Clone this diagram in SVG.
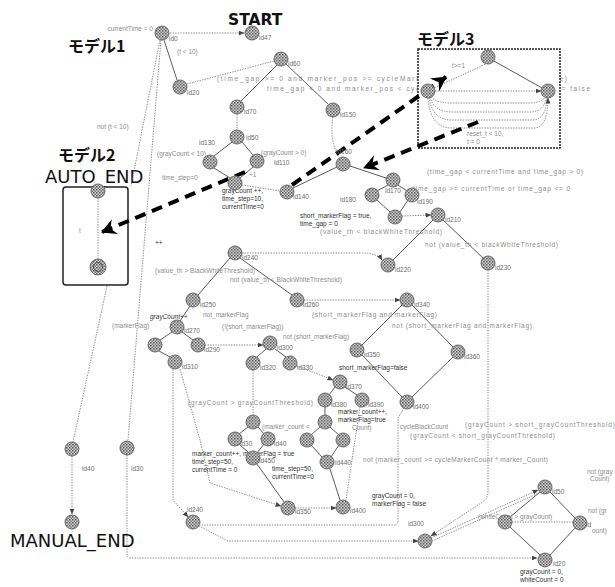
<svg xmlns="http://www.w3.org/2000/svg" width="615" height="587" viewBox="0 0 615 587">
<defs>
<pattern id="dith" width="3" height="3" patternUnits="userSpaceOnUse"><rect width="3" height="3" fill="#cfcfcf"/><rect width="1.5" height="1.5" fill="#5a5a5a"/><rect x="1.5" y="1.5" width="1.5" height="1.5" fill="#7a7a7a"/></pattern>
<marker id="a" markerUnits="userSpaceOnUse" markerWidth="6" markerHeight="6" refX="5.5" refY="3" orient="auto"><path d="M0,0.5 L6,3 L0,5.5 z" fill="#444"/></marker>
<marker id="big" markerUnits="userSpaceOnUse" markerWidth="18" markerHeight="18" refX="15" refY="9" orient="auto"><path d="M1,1 L16,9 L1,17 L6,9 z" fill="#000"/></marker>
<style>
.n{fill:url(#dith);stroke:#6a6a6a;stroke-width:1}
.e{fill:none;stroke:#6f6f6f;stroke-width:0.8;stroke-dasharray:1.4 1.2}
.s{fill:none;stroke:#4a4a4a;stroke-width:0.9}
.t{font-family:"Liberation Sans",Arial,sans-serif;font-size:6.5px;fill:#8c8c8c}
.i{font-family:"Liberation Sans",Arial,sans-serif;font-size:6.5px;fill:#6c6c6c}
.d{font-family:"Liberation Sans",Arial,sans-serif;font-size:6.5px;fill:#333}
.big{font-family:"DejaVu Sans","Noto Sans CJK JP",sans-serif;font-size:18px;fill:#111}
.bj{font-family:"Noto Sans CJK JP","DejaVu Sans",sans-serif;font-size:16px;font-weight:bold;fill:#111}
.th{fill:none;stroke:#000;stroke-width:4;stroke-dasharray:11 7}
</style>
</defs>
<rect width="615" height="587" fill="#fff"/>

<g id="bg-labels">
<text class="t" x="217" y="81" textLength="350" lengthAdjust="spacing">(time_gap &gt;= 0 and marker_pos &gt;= cycleMarkerCount and markerFlag == true)</text>
<text class="t" x="267" y="91" textLength="323" lengthAdjust="spacing">time_gap &lt; 0 and marker_pos &lt; cycleMarkerCount and markerFlag == false</text>
</g>

<g id="model3">
<rect x="418" y="49" width="142" height="99" fill="#fff" stroke="#222" stroke-width="1.5" stroke-dasharray="2 1"/>
<text class="bj" x="417" y="45">モデル3</text>
<text class="t" x="452" y="68">t&gt;=1</text>
<text class="t" x="467" y="136">reset_t &lt; 10,</text>
<text class="t" x="467" y="144">t = 0</text>
</g>

<g id="model2">
<text class="bj" x="58" y="161">モデル2</text>
<text class="big" x="45" y="183">AUTO_END</text>
<rect x="63" y="187" width="65" height="98" rx="3" fill="none" stroke="#222" stroke-width="1.5"/>
<text class="t" x="79" y="233">t</text>
</g>

<g id="connectors">
<path class="e" d="M170,33 H244" marker-end="url(#a)"/>
<path class="s" d="M164,40 L177,80"/>
<path class="e" d="M160,40 L131,186"/>
<path class="e" d="M161,40 L128,440"/>
<path class="e" d="M107,286 L73,442"/>
<path class="e" d="M72,456 V514" marker-end="url(#a)"/>
<path class="e" d="M127,455 V555 Q127,558 130,558 H537" marker-end="url(#a)"/>
<path class="e" d="M187,84 L274,61"/>
<path class="s" d="M277,65 L241,101"/>
<path class="s" d="M286,64 L328,104"/>
<path class="e" d="M237,114 V130"/>
<path class="s" d="M232,142 L214,156"/>
<path class="s" d="M242,142 L253,155"/>
<path class="s" d="M214,168 L230,178"/>
<path class="s" d="M253,167 L240,178"/>
<path class="e" d="M242,185 L280,191"/>
<path class="s" d="M293,188 L337,167"/>
<path class="e" d="M333,117 Q329,140 339,157"/>
<path class="s" d="M350,166 L386,178"/>
<path class="s" d="M388,185 L377,191"/>
<path class="s" d="M398,185 L407,191"/>
<path class="s" d="M377,200 L390,212"/>
<path class="s" d="M408,200 L400,212"/>
<path class="e" d="M402,216 L431,215" marker-end="url(#a)"/>
<path class="s" d="M433,220 L393,260"/>
<path class="s" d="M443,220 L483,258"/>
<path class="e" d="M488,270 V492 Q488,499 481,503 L431,536" marker-end="url(#a)"/>
<path class="e" d="M431,538 L538,490" marker-end="url(#a)"/>
<path class="e" d="M432,541 L539,493"/>
<path class="s" d="M540,492 L510,517"/>
<path class="s" d="M550,492 L575,518"/>
<path class="s" d="M510,527 L540,555"/>
<path class="s" d="M575,528 L550,555"/>
<path class="e" d="M512,522 H573"/>
<path class="s" d="M230,258 L198,295"/>
<path class="s" d="M240,258 L292,295"/>
<path class="e" d="M242,253 H360 Q378,253 382,260" marker-end="url(#a)"/>
<path class="s" d="M190,306 L180,321"/>
<path class="s" d="M172,332 L160,340"/>
<path class="s" d="M182,332 L193,340"/>
<path class="s" d="M159,351 L170,357"/>
<path class="e" d="M205,345 H263" marker-end="url(#a)"/>
<path class="s" d="M266,349 L257,357"/>
<path class="s" d="M275,349 L286,357"/>
<path class="e" d="M304,300 H400" marker-end="url(#a)"/>
<path class="s" d="M402,305 L362,345"/>
<path class="s" d="M412,305 L453,347"/>
<path class="s" d="M362,355 L402,397"/>
<path class="s" d="M453,357 L412,397"/>
<path class="e" d="M297,366 L333,380" marker-end="url(#a)"/>
<path class="s" d="M335,387 L329,395"/>
<path class="s" d="M345,387 L357,395"/>
<path class="s" d="M325,407 V415"/>
<path class="s" d="M320,427 L311,435"/>
<path class="s" d="M330,427 L339,435"/>
<path class="s" d="M311,445 L322,457"/>
<path class="s" d="M339,445 L331,457"/>
<path class="e" d="M253,370 V415"/>
<path class="s" d="M248,427 L239,434"/>
<path class="s" d="M258,427 L264,434"/>
<path class="s" d="M239,444 L249,453"/>
<path class="s" d="M264,444 L257,453"/>
<path class="s" d="M257,464 L284,502"/>
<path class="s" d="M330,469 L340,500"/>
<path class="e" d="M360,407 L346,500"/>
<path class="e" d="M295,508 H336" marker-end="url(#a)"/>
<path class="e" d="M173,369 V500 L188,517" marker-end="url(#a)"/>
<path class="e" d="M180,369 L200,440 L210,483 L281,506" marker-end="url(#a)"/>
<path class="e" d="M404,408 L398,418 V521 Q398,525 394,525 H200"/>
<path class="e" d="M199,526 L228,541 H418" marker-end="url(#a)"/>
<path class="e" d="M490,62 L434,88"/>
<path class="s" d="M494,61 L542,88"/>
<path class="e" d="M435,91 H541" marker-end="url(#a)"/>
<path class="e" d="M431,97 Q436,103 452,103 H528 Q542,103 545,97"/>
<path class="e" d="M430,97 Q434,112 452,112 H530 Q544,112 546,98"/>
<path class="e" d="M429,97 Q432,120 452,120 H532 Q546,120 547,98"/>
<path class="e" d="M428,98 Q430,128 452,128 H534 Q548,128 548,98" marker-end="url(#a)"/>
<path class="e" d="M98,198 V260"/>
</g>

<g id="titles">
<text x="228" y="25" style="font-family:'DejaVu Sans',sans-serif;font-size:15.5px;font-weight:bold;fill:#111">START</text>
<text class="bj" x="68" y="52">モデル1</text>
<text class="big" x="10" y="547">MANUAL_END</text>
</g>

<g id="labels">
<text class="t" x="153" y="31" text-anchor="end">currentTime = 0</text>
<text class="t" x="177" y="54">(t &lt; 10)</text>
<text class="t" x="97" y="129">not (t &lt; 10)</text>
<text class="t" x="157" y="156">(grayCount &lt; 10)</text>
<text class="t" x="261" y="155">(grayCount &gt; 0)</text>
<text class="t" x="162" y="180">time_step=0</text>
<text class="t" x="249" y="177">+1</text>
<text class="d" x="222" y="193">grayCount ++,</text>
<text class="d" x="222" y="201">time_step=10,</text>
<text class="d" x="222" y="209">currentTime=0</text>
<text class="t" x="427" y="174" textLength="156" lengthAdjust="spacing">(time_gap &lt; currentTime and time_gap &gt; 0)</text>
<text class="t" x="413" y="191" textLength="157" lengthAdjust="spacing">time_gap &gt;= currentTime or time_gap &lt;= 0</text>
<text class="d" x="300" y="218">short_markerFlag = true,</text>
<text class="d" x="300" y="226">time_gap = 0</text>
<text class="t" x="320" y="234" textLength="122" lengthAdjust="spacing">(value_th &lt; blackWhiteThreshold)</text>
<text class="t" x="425" y="247" textLength="133" lengthAdjust="spacing">not (value_th &lt; blackWhiteThreshold)</text>
<text class="d" x="155" y="245">++</text>
<text class="t" x="155" y="273" textLength="100" lengthAdjust="spacing">(value_th &gt; BlackWhiteThreshold)</text>
<text class="t" x="230" y="282" textLength="112" lengthAdjust="spacing">not (value_th &lt; BlackWhiteThreshold)</text>
<text class="t" x="203" y="317">not_markerFlag</text>
<text class="d" x="150" y="319" style="font-style:italic">grayCount++</text>
<text class="t" x="112" y="328">(markerFlag)</text>
<text class="t" x="222" y="329">(!(short_markerFlag))</text>
<text class="t" x="312" y="317" textLength="125" lengthAdjust="spacing">(short_markerFlag and markerFlag)</text>
<text class="t" x="392" y="328" textLength="140" lengthAdjust="spacing">not (short_markerFlag and markerFlag)</text>
<text class="t" x="283" y="339">not (short_markerFlag)</text>
<text class="d" x="339" y="370">short_markerFlag=false</text>
<text class="t" x="188" y="405" textLength="125" lengthAdjust="spacing">(grayCount &gt; grayCountThreshold)</text>
<text class="d" x="338" y="414">marker_count++,</text>
<text class="d" x="338" y="422">markerFlag=true</text>
<text class="t" x="262" y="429">(marker_count &lt;</text>
<text class="t" x="352" y="430">Count)</text>
<text class="t" x="400" y="429">cycleBlackCount</text>
<text class="t" x="465" y="427" textLength="150" lengthAdjust="spacing">(grayCount &gt; short_grayCountThreshold)</text>
<text class="t" x="410" y="438" textLength="145" lengthAdjust="spacing">(grayCount &lt; short_grayCountThreshold)</text>
<text class="d" x="192" y="456">marker_count++, markerFlag = true</text>
<text class="d" x="192" y="464">time_step=50,</text>
<text class="d" x="192" y="472">currentTime = 0</text>
<text class="d" x="272" y="471">time_step=50,</text>
<text class="d" x="272" y="479">currentTime=0</text>
<text class="t" x="363" y="462" textLength="185" lengthAdjust="spacing">not (marker_count &gt;= cycleMarkerCount * marker_Count)</text>
<text class="d" x="372" y="498">grayCount = 0,</text>
<text class="d" x="372" y="506">markerFlag = false</text>
<text class="t" x="587" y="474">not (gray</text>
<text class="t" x="590" y="481">Count)</text>
<text class="t" x="478" y="519">(whiteCount &gt; grayCount)</text>
<text class="t" x="588" y="513">not (gr</text>
<text class="t" x="592" y="533">ount)</text>
<text class="d" x="520" y="574">grayCount = 0,</text>
<text class="d" x="520" y="582">whiteCount = 0</text>
</g>

<g id="thick-arrows">
<path class="th" d="M245,172 L102,232" marker-end="url(#big)"/>
<path class="th" d="M292,185 L446,77" marker-end="url(#big)"/>
<path class="th" d="M478,122 L364,168" marker-end="url(#big)"/>
</g>

<g id="nodes">
<g id="m3-top"><circle class="n" cx="488" cy="57" r="7"/></g>
<g id="m3-left"><circle class="n" cx="428" cy="91" r="7"/></g>
<g id="m3-right"><circle class="n" cx="548" cy="91" r="7"/></g>
<g id="m2-top"><circle class="n" cx="98" cy="191" r="7"/></g>
<g id="m2-end"><circle class="n" cx="98" cy="267" r="8"/><circle cx="98" cy="267" r="4.5" fill="none" stroke="#555" stroke-width="1"/></g>
<g id="id0"><circle class="n" cx="162" cy="33" r="7"/><text class="i" x="169" y="41">id0</text></g>
<g id="id47"><circle class="n" cx="252" cy="33" r="7"/><text class="i" x="259" y="40">id47</text></g>
<g id="id20"><circle class="n" cx="180" cy="87" r="7"/><text class="i" x="187" y="95">id20</text></g>
<g id="id60"><circle class="n" cx="281" cy="59" r="7"/><text class="i" x="288" y="66">id60</text></g>
<g id="id70"><circle class="n" cx="237" cy="107" r="7"/><text class="i" x="244" y="114">id70</text></g>
<g id="id50"><circle class="n" cx="237" cy="137" r="7"/><text class="i" x="246" y="140">id50</text><text class="i" x="199" y="145">id130</text></g>
<g id="id100"><circle class="n" cx="210" cy="162" r="7"/></g>
<g id="id110"><circle class="n" cx="257" cy="161" r="7"/><text class="i" x="274" y="165">id110</text></g>
<g id="id90"><circle class="n" cx="235" cy="183" r="7"/></g>
<g id="id140"><circle class="n" cx="287" cy="192" r="7"/><text class="i" x="293" y="199">id140</text></g>
<g id="id150"><circle class="n" cx="333" cy="110" r="7"/><text class="i" x="340" y="117">id150</text></g>
<g id="id160"><circle class="n" cx="343" cy="164" r="7"/><text class="i" x="336" y="154">id160</text></g>
<g id="id170"><circle class="n" cx="393" cy="180" r="7"/><text class="i" x="385" y="193">id170</text></g>
<g id="id180"><circle class="n" cx="372" cy="195" r="7"/><text class="i" x="340" y="202">id180</text></g>
<g id="id190"><circle class="n" cx="412" cy="195" r="7"/><text class="i" x="417" y="204">id190</text></g>
<g id="id200"><circle class="n" cx="395" cy="217" r="7"/></g>
<g id="id210"><circle class="n" cx="438" cy="215" r="7"/><text class="i" x="445" y="222">id210</text></g>
<g id="id220"><circle class="n" cx="388" cy="265" r="7"/><text class="i" x="395" y="272">id220</text></g>
<g id="id230"><circle class="n" cx="488" cy="263" r="7"/><text class="i" x="495" y="270">id230</text></g>
<g id="id240"><circle class="n" cx="235" cy="253" r="7"/><text class="i" x="242" y="260">id240</text></g>
<g id="id250"><circle class="n" cx="193" cy="300" r="7"/><text class="i" x="200" y="307">id250</text></g>
<g id="id260"><circle class="n" cx="297" cy="300" r="7"/><text class="i" x="303" y="307">id260</text></g>
<g id="id270"><circle class="n" cx="177" cy="327" r="7"/><text class="i" x="184" y="333">id270</text></g>
<g id="id280"><circle class="n" cx="155" cy="345" r="7"/></g>
<g id="id290"><circle class="n" cx="198" cy="345" r="7"/><text class="i" x="204" y="352">id290</text></g>
<g id="id300"><circle class="n" cx="270" cy="343" r="7"/><text class="i" x="277" y="350">id300</text></g>
<g id="id310"><circle class="n" cx="175" cy="362" r="7"/><text class="i" x="182" y="369">id310</text></g>
<g id="id320"><circle class="n" cx="253" cy="363" r="7"/><text class="i" x="260" y="370">id320</text></g>
<g id="id330"><circle class="n" cx="290" cy="363" r="7"/><text class="i" x="297" y="370">id330</text></g>
<g id="id340"><circle class="n" cx="407" cy="300" r="7"/><text class="i" x="414" y="307">id340</text></g>
<g id="id350"><circle class="n" cx="357" cy="350" r="7"/><text class="i" x="364" y="357">id350</text></g>
<g id="id360"><circle class="n" cx="458" cy="352" r="7"/><text class="i" x="464" y="359">id360</text></g>
<g id="id370"><circle class="n" cx="340" cy="382" r="7"/><text class="i" x="346" y="389">id370</text></g>
<g id="id380"><circle class="n" cx="325" cy="400" r="7"/><text class="i" x="331" y="407">id380</text></g>
<g id="id390"><circle class="n" cx="362" cy="400" r="7"/><text class="i" x="368" y="407">id390</text></g>
<g id="id400"><circle class="n" cx="407" cy="402" r="7"/><text class="i" x="413" y="409">id400</text></g>
<g id="id410"><circle class="n" cx="253" cy="422" r="7"/></g>
<g id="id420"><circle class="n" cx="235" cy="439" r="7"/><text class="i" x="240" y="446">id30</text></g>
<g id="id430"><circle class="n" cx="268" cy="439" r="7"/><text class="i" x="274" y="446">id40</text></g>
<g id="id440"><circle class="n" cx="253" cy="458" r="7"/><text class="i" x="259" y="463">id450</text></g>
<g id="id450"><circle class="n" cx="325" cy="422" r="7"/></g>
<g id="id460"><circle class="n" cx="307" cy="440" r="7"/></g>
<g id="id470"><circle class="n" cx="343" cy="440" r="7"/></g>
<g id="id480"><circle class="n" cx="327" cy="462" r="7"/><text class="i" x="335" y="465">id440</text></g>
<g id="id490"><circle class="n" cx="288" cy="508" r="7"/><text class="i" x="295" y="514">id350</text></g>
<g id="id500"><circle class="n" cx="343" cy="507" r="7"/><text class="i" x="350" y="513">id400</text></g>
<g id="id510"><circle class="n" cx="193" cy="522" r="7"/><text class="i" x="187" y="512">id240</text></g>
<g id="id520"><circle class="n" cx="425" cy="541" r="7"/><text class="i" x="408" y="526">id300</text></g>
<g id="id530"><circle class="n" cx="545" cy="487" r="7"/><text class="i" x="552" y="494">id50</text></g>
<g id="id540"><circle class="n" cx="505" cy="522" r="7"/></g>
<g id="id550"><circle class="n" cx="580" cy="523" r="7"/><text class="i" x="586" y="527">id</text></g>
<g id="id560"><circle class="n" cx="545" cy="560" r="7"/><text class="i" x="553" y="566">id20</text></g>
<g id="id40"><circle class="n" cx="72" cy="449" r="7"/><text class="i" x="82" y="471">id40</text></g>
<g id="id30"><circle class="n" cx="127" cy="448" r="7"/><text class="i" x="131" y="471">id30</text></g>
<g id="manual-end"><circle class="n" cx="72" cy="522" r="7"/></g>
</g>
</svg>
